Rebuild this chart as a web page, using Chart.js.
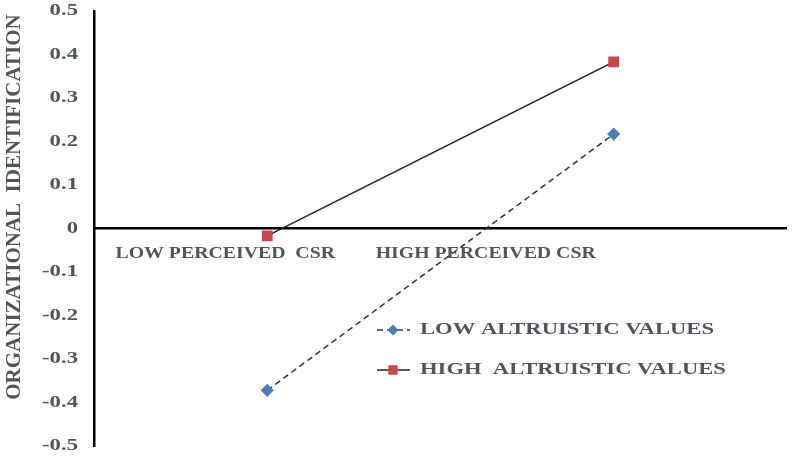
<!DOCTYPE html>
<html>
<head>
<meta charset="utf-8">
<script src="https://cdn.jsdelivr.net/npm/chart.js@4"></script>
<style>
  body { margin: 0; background: #fff; }
</style>
</head>
<body>
<canvas id="myChart" width="795" height="461"></canvas>
<script>
// data
const categories = ["LOW PERCEIVED  CSR", "HIGH PERCEIVED CSR"];
const seriesNames = ["LOW ALTRUISTIC VALUES", "HIGH  ALTRUISTIC VALUES"];
const lowAltruistic = [-0.372, 0.217];
const highAltruistic = [-0.017, 0.383];
const yTickLabels = ["-0.5", "-0.4", "-0.3", "-0.2", "-0.1", "0", "0.1", "0.2", "0.3", "0.4", "0.5"];
const yTitle = "ORGANIZATIONAL  IDENTIFICATION";

const textColor = "#50555c";
const serif = '"Liberation Serif", "Times New Roman", serif';

// the source picture is stretched sideways, so horizontal text gets a scale factor
function wideText(ctx, text, x, y, size, sx, align) {
  ctx.save();
  ctx.font = "bold " + size + "px " + serif;
  ctx.textAlign = align;
  ctx.textBaseline = "middle";
  ctx.scale(sx, 1);
  ctx.fillText(text, x / sx, y);
  ctx.restore();
}

const overlay = {
  id: "overlay",
  afterDraw(chart) {
    const { ctx } = chart;
    const x = chart.scales.x;
    const y = chart.scales.y;
    ctx.save();
    ctx.fillStyle = textColor;

    // y tick labels
    y.ticks.forEach((t) => {
      const lbl = yTickLabels[Math.round((t.value + 0.5) * 10)];
      wideText(ctx, lbl, 78, y.getPixelForValue(t.value), 16, 1.42, "right");
    });

    // category labels (sit left of their points in the original)
    const labelShift = [-42, -128];
    categories.forEach((c, i) => {
      wideText(ctx, c, x.getPixelForValue(i) + labelShift[i], y.getPixelForValue(0) + 25, 16.5, 1.2, "center");
    });

    // rotated axis title
    ctx.save();
    ctx.translate(15, 207);
    ctx.rotate(-Math.PI / 2);
    ctx.font = "bold 21px " + serif;
    ctx.textAlign = "center";
    ctx.textBaseline = "middle";
    ctx.fillText(yTitle, 0, 0);
    ctx.restore();

    // legend
    const rows = [330, 370];
    chart.data.datasets.forEach((ds, i) => {
      const ly = rows[i];
      ctx.save();
      ctx.strokeStyle = ds.borderColor;
      ctx.lineWidth = ds.borderWidth;
      ctx.setLineDash(ds.borderDash || []);
      ctx.beginPath();
      ctx.moveTo(377, ly);
      ctx.lineTo(410, ly);
      ctx.stroke();
      ctx.setLineDash([]);
      ctx.fillStyle = ds.pointBackgroundColor;
      ctx.strokeStyle = ds.pointBorderColor;
      Chart.helpers.drawPoint(ctx, { pointStyle: ds.pointStyle, radius: ds.pointRadius - 1, rotation: 0, borderWidth: 1 }, 393, ly);
      ctx.restore();
      wideText(ctx, seriesNames[i], 420, ly, 16.5, 1.37, "left");
    });
    ctx.restore();
  }
};

new Chart(document.getElementById("myChart"), {
  type: "line",
  data: {
    labels: categories,
    datasets: [
      {
        label: seriesNames[0],
        data: lowAltruistic,
        borderColor: "#333333",
        borderWidth: 1.5,
        borderDash: [6, 4],
        pointStyle: "rectRot",
        pointRadius: 5.5,
        pointBackgroundColor: "#4a7ebb",
        pointBorderColor: "#4a7ebb",
        tension: 0
      },
      {
        label: seriesNames[1],
        data: highAltruistic,
        borderColor: "#222222",
        borderWidth: 1.6,
        pointStyle: "rect",
        pointRadius: 6.5,
        pointBackgroundColor: "#c9464a",
        pointBorderColor: "#c9464a",
        tension: 0
      }
    ]
  },
  options: {
    responsive: false,
    animation: false,
    layout: { padding: { top: 11, right: 0, bottom: 15, left: 0 } },
    plugins: { legend: { display: false }, tooltip: { enabled: false } },
    scales: {
      x: {
        position: { y: 0 },
        offset: true,
        grid: { display: false, drawTicks: false },
        border: { display: true, color: "#000", width: 2.5 },
        ticks: { display: false }
      },
      y: {
        min: -0.5,
        max: 0.5,
        afterFit(s) { s.width = 94; },
        grid: { display: false, drawTicks: false },
        border: { display: true, color: "#000", width: 2.5 },
        ticks: { stepSize: 0.1, display: false }
      }
    }
  },
  plugins: [overlay]
});
</script>
</body>
</html>
